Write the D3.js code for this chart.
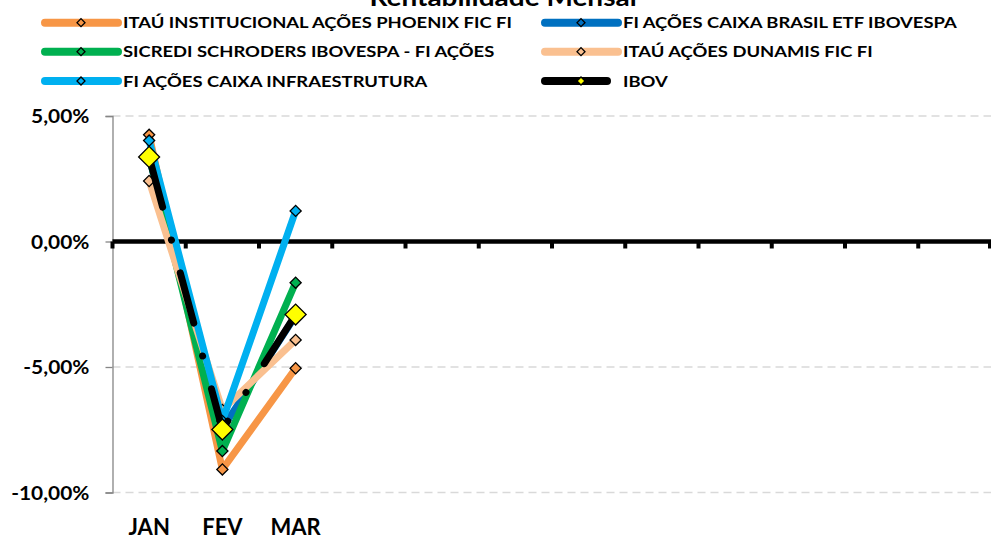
<!DOCTYPE html>
<html><head><meta charset="utf-8">
<script src="https://cdn.jsdelivr.net/npm/d3@7"></script>
<style>
body{margin:0;background:#fff;}
svg{display:block;font-family:Lato,"Open Sans",sans-serif;font-weight:bold;}
</style></head>
<body>
<svg id="c" width="991" height="539"></svg>
<script>
const months = ["JAN","FEV","MAR","ABR","MAI","JUN","JUL","AGO","SET","OUT","NOV","DEZ"];
const tickLabels = ["JAN","FEV","MAR","","","","","","","","",""];
const yTicks = [5, 0, -5, -10];
const yTickLabels = ["5,00%","0,00%","-5,00%","-10,00%"];

const seriesNames = [
  "ITAÚ INSTITUCIONAL AÇÕES PHOENIX FIC FI",
  "FI AÇÕES CAIXA BRASIL ETF IBOVESPA",
  "SICREDI SCHRODERS IBOVESPA - FI AÇÕES",
  "ITAÚ AÇÕES DUNAMIS FIC FI",
  "FI AÇÕES CAIXA INFRAESTRUTURA",
  "IBOV"
];
const phoenix  = [4.25, -9.08, -5.05];
const caixaEtf = [3.33, -7.45, -2.95];
const sicredi  = [3.40, -8.35, -1.64];
const dunamis  = [2.41, -6.71, -3.92];
const infra    = [4.02, -7.15, 1.22];
const ibov     = [3.37, -7.49, -2.91];
const seriesValues = [phoenix, caixaEtf, sicredi, dunamis, infra, ibov];
const colors = ["#F79646","#0070C0","#00B050","#FAC090","#00B0F0","#000000"];
const markerFill = ["#F79646","#0070C0","#00B050","#FAC090","#00B0F0","#FFFF00"];

const svg = d3.select("#c");
const plot = {left:112.5, right:991.5, top:116, bottom:492.5};

const x = d3.scaleBand().domain(months).range([plot.left, plot.right]).paddingInner(0).paddingOuter(0);
const y = d3.scaleLinear().domain([-10, 5]).range([plot.bottom, plot.top]);

// title
svg.append("text").attr("transform","translate(503,6) scale(1.12,1)").attr("text-anchor","middle")
  .attr("font-size", 25).attr("fill","#000").text("Rentabilidade Mensal");

// gridlines
svg.append("g").selectAll("line").data(yTicks.filter(d=>d!==0)).join("line")
  .attr("x1", plot.left).attr("x2", plot.right)
  .attr("y1", d=>y(d)).attr("y2", d=>y(d))
  .attr("stroke","#D9D9D9").attr("stroke-width",1.5).attr("stroke-dasharray","8,5");

// y axis
const yAxis = d3.axisLeft(y).tickValues(yTicks).tickSize(7).tickFormat((d,i)=>yTickLabels[i]);
const gy = svg.append("g").attr("transform",`translate(${plot.left},0)`).call(yAxis);
gy.select(".domain").attr("stroke","#868686").attr("stroke-width",1.3);
gy.selectAll(".tick line").attr("stroke","#868686").attr("stroke-width",1.3);
gy.selectAll(".tick text").attr("font-size",19).attr("font-family","Lato").attr("font-weight","bold")
  .attr("fill","#000").attr("x",0).attr("dy","0.36em").attr("transform","translate(-23,0) scale(1.1,1)");

// zero line with ticks below
svg.append("line").attr("x1",plot.left).attr("x2",plot.right).attr("y1",y(0)).attr("y2",y(0))
  .attr("stroke","#000").attr("stroke-width",4.5);
const boundaries = months.map(m=>x(m)).concat([plot.right-1.5]);
svg.append("g").selectAll("line").data(boundaries).join("line")
  .attr("x1",d=>d).attr("x2",d=>d).attr("y1",y(0)).attr("y2",y(0)+7)
  .attr("stroke","#000").attr("stroke-width",4);

// x labels at bottom
const gxb = svg.append("g").attr("transform",`translate(0,${plot.bottom})`)
  .call(d3.axisBottom(x).tickSize(0).tickFormat((d,i)=>tickLabels[i]));
gxb.select(".domain").remove();
gxb.selectAll(".tick text").attr("font-size",22).attr("font-family","Lato").attr("font-weight","bold")
  .attr("fill","#000").attr("y",27).attr("dy","0.71em");

// series
const line = d3.line().x((d,i)=>x(months[i])+x.bandwidth()/2).y(d=>y(d));
seriesValues.forEach((vals, s)=>{
  const g = svg.append("g");
  const p = g.append("path").datum(vals).attr("d", line).attr("fill","none")
    .attr("stroke", colors[s]).attr("stroke-width",7).attr("stroke-linejoin","round").attr("stroke-linecap","round");
  if (s===5) p.attr("stroke-dasharray","52,34,0.1,34");
  const big = s===5;
  g.selectAll("path.m").data(vals).join("path").attr("class","m")
    .attr("d", d3.symbol().type(d3.symbolSquare).size(big?220:62)())
    .attr("transform",(d,i)=>`translate(${x(months[i])+x.bandwidth()/2},${y(d)}) rotate(45)`)
    .attr("fill", markerFill[s]).attr("stroke","#000").attr("stroke-width",1.3);
});

// legend
const legPos = [[45,22.7],[545,22.7],[45,51.7],[545,51.7],[45,81],[545,81]];
const legend = svg.append("g");
seriesNames.forEach((name,s)=>{
  const [lx,ly] = legPos[s];
  const g = legend.append("g").attr("transform",`translate(${lx},${ly})`);
  const len = s===5 ? 62 : 73;
  g.append("line").attr("x1",0).attr("x2",len).attr("y1",0).attr("y2",0)
    .attr("stroke",colors[s]).attr("stroke-width",8).attr("stroke-linecap","round");
  g.append("path").attr("d", d3.symbol().type(d3.symbolSquare).size(32)())
    .attr("transform",`translate(36,0) rotate(45)`)
    .attr("fill", s===5 ? "#FFFF00" : colors[s]).attr("stroke","#000").attr("stroke-width",1.3);
  g.append("text").attr("transform","translate(78,0) scale(1.15,1)").attr("dy","0.36em")
    .attr("font-size",16).attr("fill","#000").text(name);
});
</script>
</body></html>
